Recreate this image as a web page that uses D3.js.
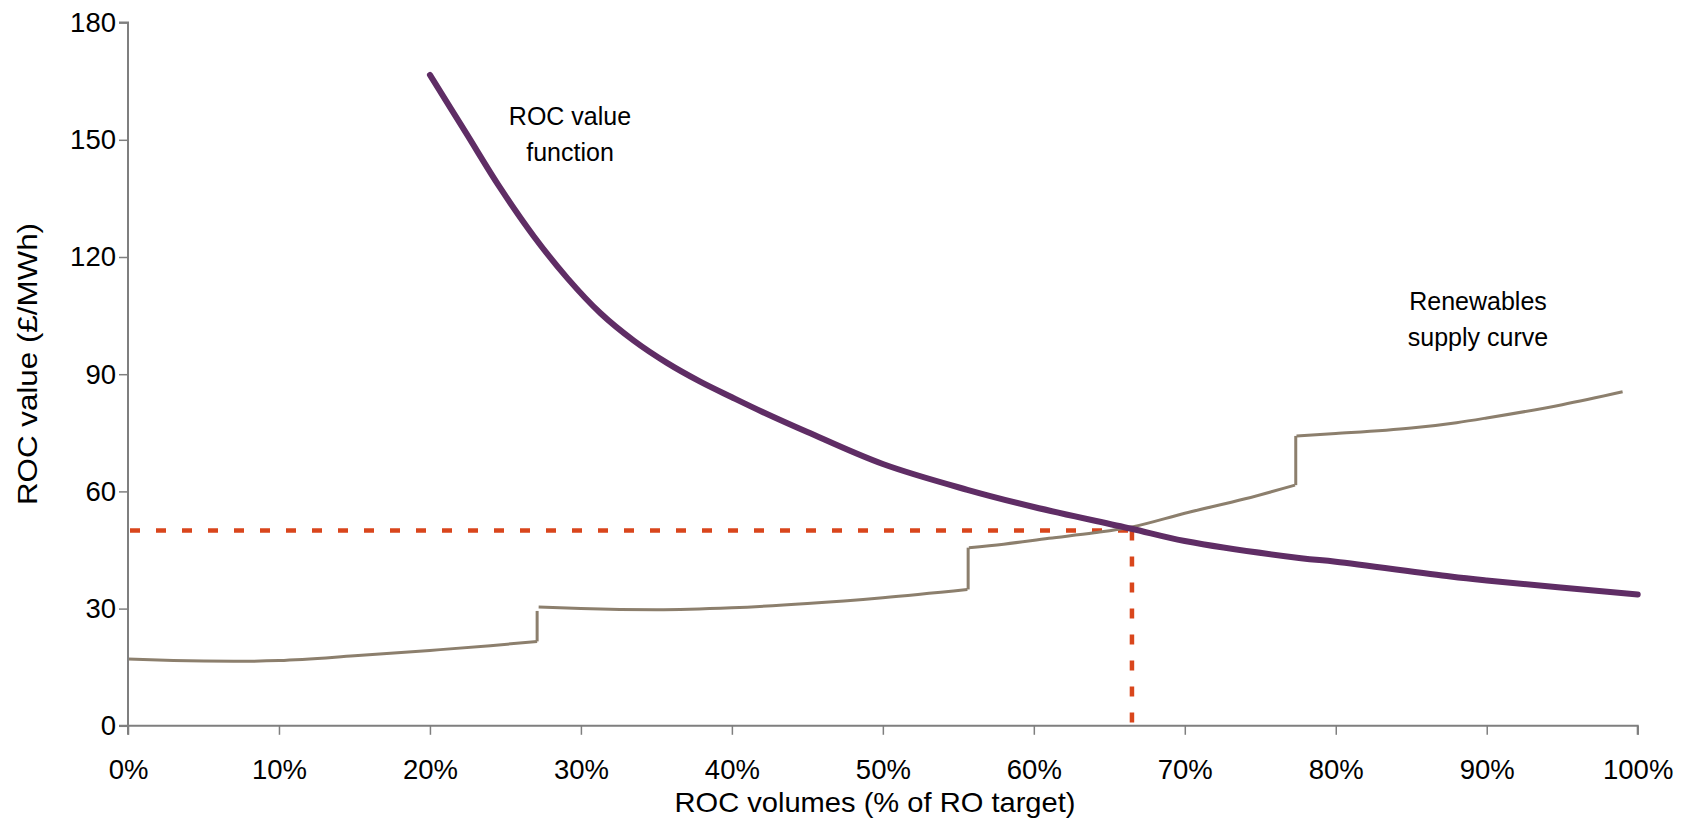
<!DOCTYPE html>
<html><head><meta charset="utf-8">
<script src="https://cdn.jsdelivr.net/npm/d3@7"></script>
<style>
html,body{margin:0;padding:0;background:#fff;}
text{font-family:"Liberation Sans",Arial,Helvetica,sans-serif;fill:#000;}
</style></head>
<body><svg id="chart" width="1686" height="834"></svg>
<script>
// ---- data ----
const xTicks = [0,10,20,30,40,50,60,70,80,90,100];
const yTicks = [0,30,60,90,120,150,180];

const rocX = [20, 22.4, 24.6, 26.9, 29.1, 31.3, 33.5, 35.7, 37.9, 40, 42, 45, 50, 55.6, 60, 66.4, 70, 77.7, 80, 87.6, 90, 100];
const rocY = [166.6, 151.7, 138.0, 125.2, 114.6, 105.6, 98.6, 92.9, 88.1, 84.1, 80.4, 75.2, 67.0, 60.4, 56.0, 50.5, 47.3, 42.9, 42.0, 38.2, 37.2, 33.6];

const seg1X = [0, 3, 7, 10, 15, 20, 24, 27.1];
const seg1Y = [17.1, 16.7, 16.5, 16.7, 17.9, 19.3, 20.5, 21.6];
const seg2X = [27.2, 30, 35, 40, 45, 50, 55.6];
const seg2Y = [30.4, 30.0, 29.7, 30.2, 31.3, 32.8, 34.9];
const seg3X = [55.7, 58, 61, 64, 66.5, 70, 74, 77.3];
const seg3Y = [45.6, 46.5, 48.0, 49.4, 50.9, 54.4, 58.1, 61.6];
const seg4X = [77.4, 80, 85, 88, 90, 95, 99];
const seg4Y = [74.2, 74.8, 76.2, 77.6, 78.8, 82.2, 85.5];
const stepX = [27.1, 55.65, 77.35];
const stepLow = [21.6, 34.9, 61.6];
const stepHigh = [29.4, 45.6, 74.2];

const eqX = 66.5, eqY = 50;

// ---- layout ----
const svg = d3.select("#chart");
const L = 128, R = 1637.7, T = 22.6, B = 725.8;
const x = d3.scaleLinear().domain([0,100]).range([L,R]);
const y = d3.scaleLinear().domain([0,180]).range([B,T]);

const axisColor = "#7f7f7f";

// dashed equilibrium lines
const dashColor = "#d9461c";
svg.append("line").attr("x1", x(0)+2).attr("x2", x(eqX)).attr("y1", y(eqY)).attr("y2", y(eqY))
  .attr("stroke", dashColor).attr("stroke-width", 4.5).attr("stroke-dasharray", "10,16");
svg.append("line").attr("x1", x(eqX)).attr("x2", x(eqX)).attr("y1", y(eqY)).attr("y2", y(0))
  .attr("stroke", dashColor).attr("stroke-width", 4.5).attr("stroke-dasharray", "10,16");

// supply curve
const supplyColor = "#8c7f6d";
const line = d3.line().x(d=>x(d[0])).y(d=>y(d[1])).curve(d3.curveMonotoneX);
[[seg1X,seg1Y],[seg2X,seg2Y],[seg3X,seg3Y],[seg4X,seg4Y]].forEach(([xs,ys])=>{
  svg.append("path").datum(xs.map((v,i)=>[v,ys[i]])).attr("d", line)
    .attr("fill","none").attr("stroke", supplyColor).attr("stroke-width", 3);
});
stepX.forEach((sx,i)=>{
  svg.append("line").attr("x1",x(sx)).attr("x2",x(sx)).attr("y1",y(stepLow[i])).attr("y2",y(stepHigh[i]))
    .attr("stroke", supplyColor).attr("stroke-width", 3);
});

// ROC value function
svg.append("path").datum(rocX.map((v,i)=>[v,rocY[i]]))
  .attr("d", d3.line().x(d=>x(d[0])).y(d=>y(d[1])).curve(d3.curveCatmullRom.alpha(0.5)))
  .attr("fill","none").attr("stroke","#5f2d65").attr("stroke-width", 6).attr("stroke-linecap","round");

// axes
const gx = svg.append("g").attr("transform",`translate(0,${B})`)
  .call(d3.axisBottom(x).tickValues(xTicks).tickSize(9).tickPadding(25).tickFormat(d=>d+"%"));
const gy = svg.append("g").attr("transform",`translate(${L},0)`)
  .call(d3.axisLeft(y).tickValues(yTicks).tickSize(9).tickPadding(3).tickFormat(d3.format("d")));
[gx,gy].forEach(g=>{
  g.select(".domain").attr("stroke",axisColor).attr("stroke-width",2);
  g.selectAll(".tick line").attr("stroke",axisColor).attr("stroke-width",1.5);
  g.selectAll(".tick text").attr("font-size",27.5).attr("font-family",'"Liberation Sans",Arial,sans-serif').attr("fill","#000");
});
gy.select(".domain").attr("d", `M-9,${T}H0V${B}H-9`);
gx.select(".domain").attr("d", `M${L},9V0H${R}V9`);

// axis titles
svg.append("text").attr("x", 875).attr("y", 802).attr("text-anchor","middle").attr("dominant-baseline","central")
  .attr("font-size", 28.5).attr("textLength", 401).attr("lengthAdjust","spacingAndGlyphs")
  .text("ROC volumes (% of RO target)");
svg.append("text").attr("transform","translate(27,364) rotate(-90)").attr("text-anchor","middle")
  .attr("dominant-baseline","central").attr("font-size", 28.5)
  .attr("textLength", 282).attr("lengthAdjust","spacingAndGlyphs").text("ROC value (£/MWh)");

// annotations
const ann1 = svg.append("text").attr("text-anchor","middle").attr("font-size",25);
ann1.append("tspan").attr("x",570).attr("y",125).text("ROC value");
ann1.append("tspan").attr("x",570).attr("y",161).text("function");
const ann2 = svg.append("text").attr("text-anchor","middle").attr("font-size",25);
ann2.append("tspan").attr("x",1478).attr("y",310).text("Renewables");
ann2.append("tspan").attr("x",1478).attr("y",346).text("supply curve");
</script></body></html>
